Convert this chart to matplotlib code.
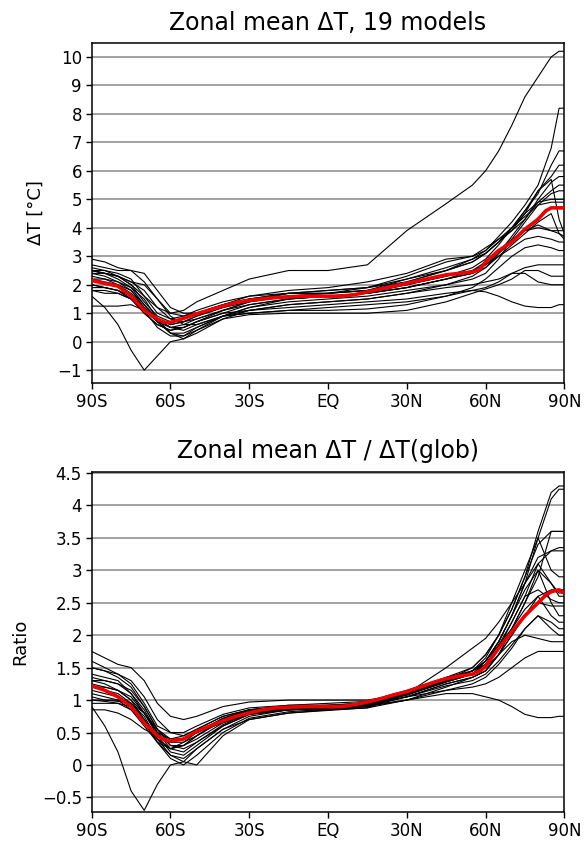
import matplotlib
matplotlib.use("Agg")
import matplotlib.pyplot as plt
import numpy as np

# latitude knots (deg, negative = south)
lats = [-90, -85, -80, -75, -70, -65, -60, -55, -50, -40, -30, -15, 0,
        15, 30, 45, 55, 60, 65, 70, 75, 80, 85, 88, 90]

# zonal mean warming [degC], one row per model
dT_models = [
    [2.5, 2.4, 2.3, 2.0, 1.6, 1.2, 1.0, 1.1, 1.4, 1.8, 2.2, 2.5, 2.5, 2.7, 3.9, 4.85, 5.5, 6.0, 6.7, 7.6, 8.6, 9.3, 10.0, 10.2, 10.2],
    [1.6, 1.2, 0.6, -0.3, -1.0, -0.5, 0.0, 0.1, 0.4, 0.9, 1.1, 1.3, 1.4, 1.5, 1.7, 2.0, 2.2, 2.4, 2.9, 3.6, 4.2, 4.8, 5.2, 5.3, 5.3],
    [2.0, 1.9, 1.8, 1.5, 1.0, 0.6, 0.4, 0.5, 0.7, 1.0, 1.1, 1.2, 1.3, 1.4, 1.5, 1.7, 1.8, 1.75, 1.6, 1.4, 1.25, 1.2, 1.2, 1.3, 1.3],
    [2.4, 2.3, 2.1, 1.8, 1.2, 0.8, 0.6, 0.7, 0.9, 1.2, 1.5, 1.7, 1.8, 1.9, 2.1, 2.5, 2.9, 3.2, 3.7, 4.2, 4.8, 5.5, 6.8, 8.2, 8.2],
    [2.5, 2.4, 2.3, 2.0, 1.4, 0.9, 0.7, 0.8, 1.0, 1.3, 1.5, 1.7, 1.7, 1.8, 2.0, 2.3, 2.6, 2.9, 3.4, 4.0, 4.6, 5.2, 6.2, 6.7, 6.7],
    [2.6, 2.5, 2.4, 2.2, 1.6, 1.0, 0.8, 0.9, 1.1, 1.4, 1.6, 1.7, 1.7, 1.8, 2.2, 2.6, 2.9, 3.1, 3.5, 3.9, 4.5, 5.3, 5.8, 6.2, 6.2],
    [2.2, 2.1, 2.0, 1.8, 1.3, 0.8, 0.6, 0.7, 0.9, 1.2, 1.4, 1.6, 1.6, 1.7, 1.9, 2.2, 2.4, 2.6, 3.1, 3.7, 4.3, 5.0, 5.6, 5.8, 5.8],
    [2.9, 2.8, 2.6, 2.5, 2.4, 1.8, 1.2, 1.0, 1.0, 1.3, 1.5, 1.6, 1.7, 1.9, 2.3, 2.8, 3.0, 3.3, 3.6, 3.9, 4.3, 4.9, 5.3, 5.5, 5.5],
    [2.3, 2.2, 2.0, 1.7, 1.2, 0.7, 0.5, 0.6, 0.8, 1.1, 1.4, 1.6, 1.7, 1.8, 2.1, 2.5, 2.8, 3.1, 3.5, 4.0, 4.5, 4.9, 5.0, 5.0, 5.0],
    [2.5, 2.4, 2.2, 1.9, 1.3, 0.8, 0.5, 0.5, 0.7, 1.1, 1.4, 1.7, 1.8, 1.9, 2.2, 2.5, 2.8, 3.1, 3.5, 4.0, 4.6, 5.3, 5.7, 4.3, 3.8],
    [2.0, 1.9, 1.8, 1.5, 1.0, 0.6, 0.4, 0.5, 0.7, 1.0, 1.3, 1.5, 1.6, 1.7, 2.0, 2.3, 2.5, 2.7, 3.1, 3.5, 3.9, 4.1, 3.9, 3.8, 3.7],
    [1.9, 1.9, 1.8, 1.6, 1.2, 0.7, 0.3, 0.3, 0.5, 0.9, 1.2, 1.5, 1.6, 1.7, 1.9, 2.2, 2.4, 2.7, 3.0, 3.4, 3.8, 4.2, 4.5, 3.8, 3.6],
    [2.4, 2.4, 2.3, 2.1, 2.0, 1.5, 0.9, 0.6, 0.6, 0.9, 1.2, 1.4, 1.5, 1.6, 1.8, 2.0, 2.3, 2.6, 3.0, 3.3, 3.6, 3.7, 3.6, 3.5, 3.5],
    [1.8, 1.8, 1.7, 1.5, 1.1, 0.5, 0.2, 0.2, 0.5, 0.9, 1.0, 1.1, 1.2, 1.3, 1.4, 1.6, 1.9, 2.2, 2.6, 3.0, 3.3, 3.4, 3.3, 3.2, 3.2],
    [2.2, 2.2, 2.1, 1.9, 1.5, 0.8, 0.3, 0.1, 0.3, 0.8, 1.1, 1.3, 1.4, 1.5, 1.7, 1.9, 2.0, 2.1, 2.2, 2.4, 2.6, 2.7, 2.7, 2.7, 2.7],
    [1.25, 1.25, 1.25, 1.3, 1.1, 0.7, 0.3, 0.2, 0.4, 0.8, 0.95, 1.0, 1.0, 1.0, 1.1, 1.4, 1.7, 1.85, 2.0, 2.2, 2.5, 2.5, 2.3, 2.3, 2.3],
    [2.7, 2.6, 2.5, 2.5, 2.1, 1.5, 1.0, 0.9, 1.0, 1.3, 1.6, 1.8, 1.9, 2.1, 2.4, 2.9, 3.0, 3.2, 3.6, 4.0, 4.4, 4.8, 4.9, 4.9, 4.9],
    [2.5, 2.5, 2.3, 2.1, 1.8, 1.2, 0.8, 0.7, 0.8, 1.1, 1.3, 1.5, 1.6, 1.7, 1.9, 2.2, 2.5, 2.8, 3.2, 3.6, 3.9, 4.0, 3.9, 3.9, 3.9],
    [1.8, 1.7, 1.7, 1.5, 1.2, 0.8, 0.5, 0.4, 0.6, 0.9, 1.0, 1.1, 1.1, 1.15, 1.3, 1.6, 1.8, 1.9, 2.1, 2.4, 2.4, 2.1, 2.0, 2.0, 2.0],
]

# zonal mean warming divided by global mean warming, one row per model
ratio_models = [
    [0.85, 0.85, 0.8, 0.7, 0.55, 0.45, 0.35, 0.4, 0.5, 0.65, 0.78, 0.85, 0.85, 0.88, 1.1, 1.5, 1.8, 1.95, 2.2, 2.5, 2.8, 3.1, 3.3, 3.35, 3.35],
    [0.9, 0.6, 0.2, -0.4, -0.7, -0.3, 0.0, 0.05, 0.25, 0.55, 0.7, 0.8, 0.85, 0.9, 1.0, 1.2, 1.35, 1.45, 1.7, 2.1, 2.5, 2.9, 3.6, 3.6, 3.6],
    [1.1, 1.05, 1.0, 0.85, 0.6, 0.35, 0.25, 0.35, 0.5, 0.7, 0.8, 0.85, 0.88, 0.92, 1.0, 1.1, 1.1, 1.05, 1.0, 0.9, 0.78, 0.73, 0.73, 0.75, 0.75],
    [1.3, 1.25, 1.15, 1.0, 0.7, 0.4, 0.25, 0.3, 0.45, 0.7, 0.82, 0.88, 0.9, 0.95, 1.1, 1.3, 1.5, 1.7, 2.0, 2.4, 2.9, 3.6, 4.2, 4.3, 4.3],
    [1.4, 1.35, 1.3, 1.1, 0.8, 0.5, 0.4, 0.45, 0.55, 0.75, 0.85, 0.9, 0.9, 0.95, 1.1, 1.3, 1.45, 1.6, 1.9, 2.3, 2.8, 3.5, 4.1, 4.25, 4.25],
    [1.5, 1.45, 1.4, 1.25, 0.95, 0.6, 0.5, 0.5, 0.6, 0.78, 0.88, 0.92, 0.92, 0.96, 1.12, 1.35, 1.5, 1.7, 2.0, 2.4, 2.9, 3.4, 3.6, 3.6, 3.6],
    [1.2, 1.15, 1.1, 0.95, 0.7, 0.45, 0.35, 0.4, 0.5, 0.72, 0.85, 0.9, 0.9, 0.95, 1.1, 1.3, 1.4, 1.6, 1.9, 2.3, 2.8, 3.2, 3.3, 3.3, 3.3],
    [1.75, 1.65, 1.55, 1.5, 1.3, 0.95, 0.75, 0.7, 0.75, 0.9, 0.97, 1.0, 1.0, 1.0, 1.1, 1.3, 1.45, 1.6, 1.85, 2.1, 2.4, 2.6, 2.7, 2.7, 2.7],
    [1.25, 1.2, 1.15, 1.0, 0.8, 0.55, 0.35, 0.35, 0.45, 0.68, 0.82, 0.9, 0.92, 0.95, 1.1, 1.3, 1.45, 1.6, 1.9, 2.3, 2.7, 3.0, 2.8, 2.6, 2.6],
    [1.0, 0.98, 0.95, 0.85, 0.65, 0.4, 0.25, 0.3, 0.45, 0.7, 0.85, 0.92, 0.95, 0.98, 1.15, 1.35, 1.45, 1.55, 1.8, 2.2, 2.6, 2.7, 2.55, 2.5, 2.5],
    [1.3, 1.3, 1.25, 1.15, 0.9, 0.55, 0.3, 0.25, 0.35, 0.6, 0.78, 0.85, 0.88, 0.93, 1.08, 1.28, 1.4, 1.55, 1.8, 2.1, 2.5, 3.0, 2.5, 2.3, 2.3],
    [1.0, 1.0, 1.0, 0.95, 0.75, 0.4, 0.15, 0.1, 0.25, 0.55, 0.75, 0.85, 0.88, 0.92, 1.05, 1.25, 1.35, 1.45, 1.7, 2.0, 2.3, 2.6, 2.3, 2.2, 2.2],
    [1.15, 1.1, 1.05, 0.95, 0.7, 0.35, 0.1, 0.0, 0.15, 0.5, 0.72, 0.82, 0.86, 0.9, 1.05, 1.22, 1.3, 1.4, 1.6, 1.85, 2.1, 2.3, 2.2, 2.1, 2.1],
    [0.95, 0.95, 0.95, 0.9, 0.65, 0.35, 0.15, 0.05, 0.0, 0.45, 0.7, 0.8, 0.84, 0.88, 1.0, 1.15, 1.25, 1.35, 1.55, 1.8, 2.1, 2.3, 2.1, 2.0, 2.0],
    [1.6, 1.5, 1.4, 1.3, 1.05, 0.7, 0.5, 0.45, 0.55, 0.75, 0.85, 0.9, 0.92, 0.95, 1.08, 1.28, 1.4, 1.5, 1.7, 1.9, 2.0, 1.95, 1.9, 1.9, 1.9],
    [1.05, 1.0, 0.98, 0.95, 0.8, 0.5, 0.25, 0.2, 0.35, 0.62, 0.8, 0.88, 0.9, 0.94, 1.05, 1.15, 1.2, 1.25, 1.35, 1.5, 1.65, 1.75, 1.75, 1.75, 1.75],
    [1.35, 1.3, 1.25, 1.1, 0.85, 0.5, 0.3, 0.3, 0.4, 0.65, 0.8, 0.87, 0.9, 0.93, 1.08, 1.28, 1.4, 1.55, 1.85, 2.2, 2.6, 3.1, 2.8, 2.65, 2.65],
    [1.2, 1.2, 1.15, 1.05, 0.8, 0.45, 0.2, 0.15, 0.3, 0.6, 0.78, 0.85, 0.88, 0.92, 1.05, 1.25, 1.35, 1.45, 1.7, 2.0, 2.3, 2.5, 2.45, 2.45, 2.45],
    [1.5, 1.45, 1.35, 1.2, 0.9, 0.55, 0.4, 0.4, 0.5, 0.72, 0.84, 0.9, 0.9, 0.94, 1.08, 1.3, 1.45, 1.65, 2.0, 2.5, 3.0, 3.5, 3.0, 2.9, 2.9],
]

# multi-model mean (red curves)
mean_lats = [-90, -85, -80, -75, -70, -65, -62, -60, -55, -50, -45, -40, -35, -30,
             -25, -20, -10, 0, 5, 10, 15, 20, 25, 30, 35, 40, 45, 50, 55, 58,
             60, 65, 70, 75, 80, 83, 85, 88, 90]
dT_mean = [2.15, 2.05, 1.95, 1.6, 1.1, 0.8, 0.68, 0.68, 0.82, 0.98, 1.12, 1.25, 1.38, 1.45,
           1.5, 1.55, 1.6, 1.6, 1.6, 1.65, 1.75, 1.85, 1.95, 2.05, 2.15, 2.25, 2.35, 2.4, 2.45, 2.55,
           2.8, 3.2, 3.5, 3.95, 4.3, 4.6, 4.7, 4.7, 4.7]
ratio_mean = [1.22, 1.15, 1.05, 0.9, 0.65, 0.45, 0.38, 0.37, 0.4, 0.52, 0.6, 0.68, 0.75, 0.8,
              0.85, 0.88, 0.9, 0.9, 0.9, 0.93, 0.97, 1.02, 1.08, 1.13, 1.2, 1.27, 1.33, 1.37, 1.4, 1.45,
              1.52, 1.8, 2.05, 2.3, 2.5, 2.62, 2.67, 2.7, 2.65]

xticks = [-90, -60, -30, 0, 30, 60, 90]
xlabels = ['90S', '60S', '30S', 'EQ', '30N', '60N', '90N']
dT_ticks = list(range(-1, 11))
ratio_ticks = [-0.5, 0, 0.5, 1, 1.5, 2, 2.5, 3, 3.5, 4, 4.5]

fig = plt.figure(figsize=(5.86, 8.41), dpi=100)
ax1 = fig.add_axes([0.1565, 0.5446, 0.8065, 0.4046])
ax2 = fig.add_axes([0.1565, 0.0341, 0.8065, 0.4050])


def style(ax, yticks, ylim, title, title_pad):
    for y in yticks:
        ax.axhline(y, color='#9a9a9a', lw=1.3, zorder=1)
    ax.set_xlim(-90, 90)
    ax.set_ylim(*ylim)
    ax.set_xticks(xticks)
    ax.set_xticklabels(xlabels)
    ax.set_yticks(yticks)
    ax.set_yticklabels([('%g' % v).replace('-', '\u2212') for v in yticks])
    ax.tick_params(direction='out', length=4, width=1, labelsize=12, pad=3)
    for s in ax.spines.values():
        s.set_linewidth(1.1)
    ax.set_title(title, fontsize=17, pad=title_pad)


for m in dT_models:
    ax1.plot(lats, m, color='black', lw=0.8, zorder=2)
ax1.plot(mean_lats, dT_mean, color='#ee0000', lw=2.6, zorder=3)
style(ax1, dT_ticks, (-1.45, 10.5), 'Zonal mean \u0394T, 19 models', 9)

for m in ratio_models:
    ax2.plot(lats, m, color='black', lw=0.8, zorder=2)
ax2.plot(mean_lats, ratio_mean, color='#ee0000', lw=2.6, zorder=3)
style(ax2, ratio_ticks, (-0.73, 4.52), 'Zonal mean \u0394T / \u0394T(glob)', 10)

fig.text(35.5 / 586, 1 - 213 / 841, '\u0394T [\u00b0C]', rotation=90,
         ha='center', va='center', fontsize=13)
fig.text(20.5 / 586, 1 - 642 / 841, 'Ratio', rotation=90,
         ha='center', va='center', fontsize=13)

fig.savefig('out.png', dpi=100)
